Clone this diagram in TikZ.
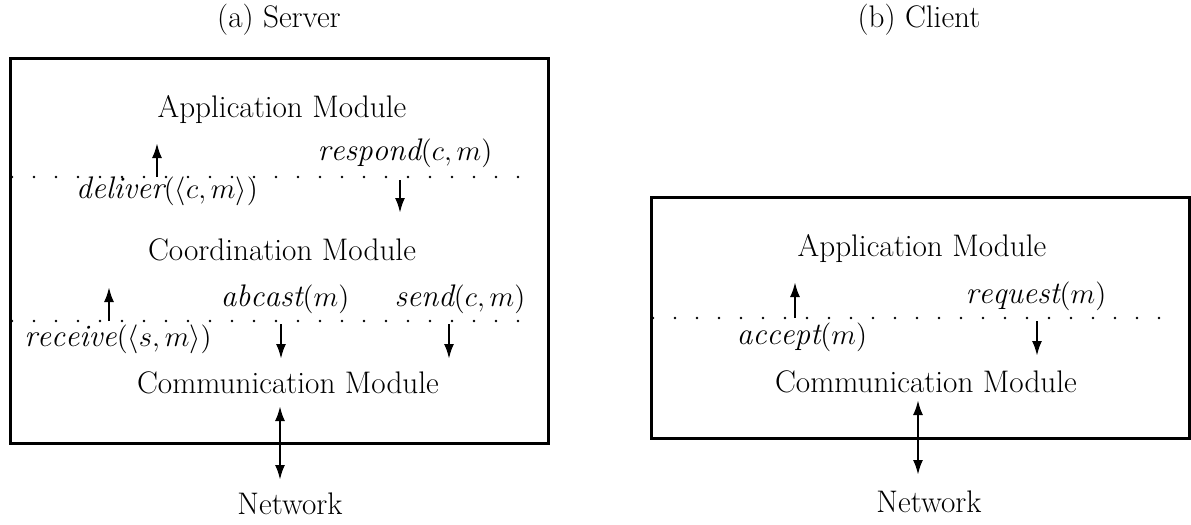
\documentclass[tikz,border=0pt]{standalone}
\usepackage{fontspec}
\usetikzlibrary{arrows.meta}
\begin{document}
\begin{tikzpicture}[x=0.5pt,y=-0.5pt,
  lbl/.style={font=\fontsize{15.6}{18}\selectfont, inner sep=0pt, anchor=base},
  frame/.style={draw, line width=1.4pt, inner sep=0pt, anchor=north west},
  dots/.style={line width=1.4pt, line cap=round, dash pattern=on 0pt off 11pt},
  arr/.style={line width=1.2pt, -{Latex[length=7.5pt,width=5pt]}},
  darr/.style={line width=1.2pt, {Latex[length=7.5pt,width=5pt]}-{Latex[length=7.5pt,width=5pt]}}]
\useasboundingbox (0,0) rectangle (1191,525);
% ---------- Server ----------
\node[lbl] (stitle) at (279,27) {(a) Server};
\node[frame, minimum width=269pt, minimum height=192.5pt] (sbox) at (9,57) {};
\node[lbl] (sapp) at (282,117) {Application Module};
\node[lbl] (sresp) at (405,160) {$\mathit{respond}(c,m)$};
\node[lbl] (sdel) at (167,198) {$\mathit{deliver}(\langle c,m\rangle)$};
\node[lbl] (scoord) at (282,260) {Coordination Module};
\node[lbl] (sabc) at (285,306) {$\mathit{abcast}(m)$};
\node[lbl] (ssend) at (460,306) {$\mathit{send}(c,m)$};
\node[lbl] (srec) at (118,346) {$\mathit{receive}(\langle s,m\rangle)$};
\node[lbl] (scomm) at (288,393) {Communication Module};
\node[lbl] (snet) at (290,514) {Network};
\coordinate (sd1a) at (12,177); \coordinate (sd1b) at (528,177);
\coordinate (sd2a) at (12,321); \coordinate (sd2b) at (528,321);
\draw[dots] (sd1a) -- (sd1b);
\draw[dots] (sd2a) -- (sd2b);
\coordinate (a1s) at (157,177); \coordinate (a1e) at (157,143);
\coordinate (a2s) at (400,180); \coordinate (a2e) at (400,213);
\coordinate (a3s) at (109,321); \coordinate (a3e) at (109,287);
\coordinate (a4s) at (281,324); \coordinate (a4e) at (281,359);
\coordinate (a5s) at (449,324); \coordinate (a5e) at (449,359);
\coordinate (a6s) at (280,406); \coordinate (a6e) at (280,480);
\draw[arr] (a1s) -- (a1e);
\draw[arr] (a2s) -- (a2e);
\draw[arr] (a3s) -- (a3e);
\draw[arr] (a4s) -- (a4e);
\draw[arr] (a5s) -- (a5e);
\draw[darr] (a6s) -- (a6e);
% ---------- Client ----------
\node[lbl] (ctitle) at (919,27) {(b) Client};
\node[frame, minimum width=269pt, minimum height=120.5pt] (cbox) at (650,196) {};
\node[lbl] (capp) at (922,256) {Application Module};
\node[lbl] (creq) at (1036,303) {$\mathit{request}(m)$};
\node[lbl] (cacc) at (802,344) {$\mathit{accept}(m)$};
\node[lbl] (ccomm) at (926,392) {Communication Module};
\node[lbl] (cnet) at (929,512) {Network};
\coordinate (cd1a) at (653,318); \coordinate (cd1b) at (1166,318);
\draw[dots] (cd1a) -- (cd1b);
\coordinate (b1s) at (795,318); \coordinate (b1e) at (795,282);
\coordinate (b2s) at (1037,321); \coordinate (b2e) at (1037,356);
\coordinate (b3s) at (918,400); \coordinate (b3e) at (918,475);
\draw[arr] (b1s) -- (b1e);
\draw[arr] (b2s) -- (b2e);
\draw[darr] (b3s) -- (b3e);
\end{tikzpicture}
\end{document}
